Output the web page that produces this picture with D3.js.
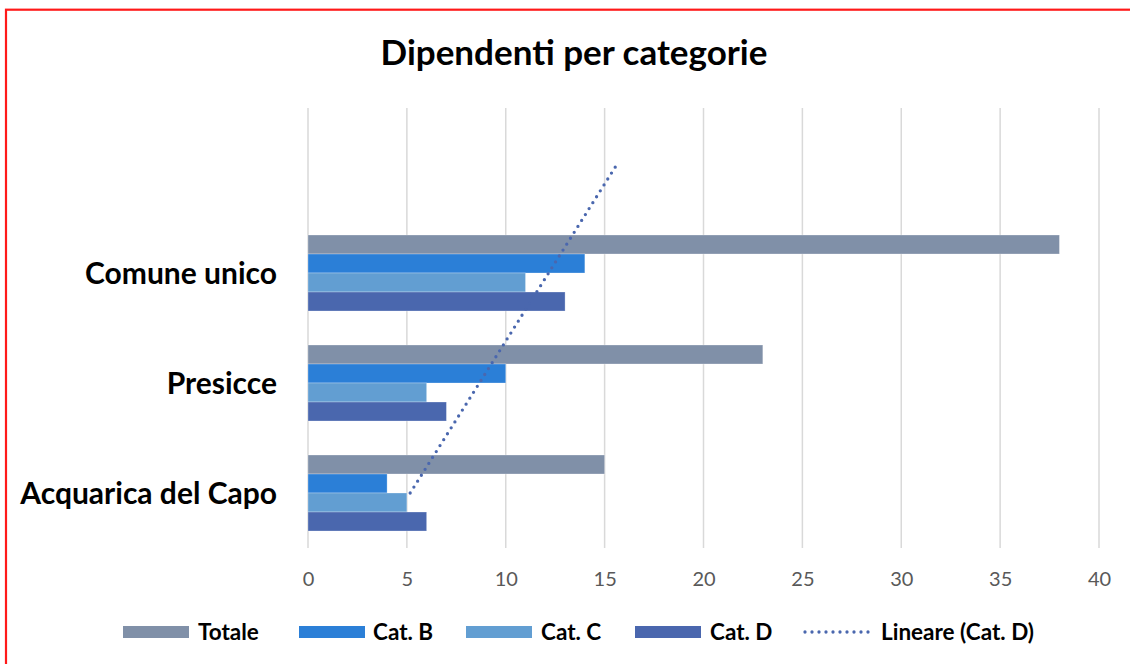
<!DOCTYPE html>
<html>
<head>
<meta charset="utf-8">
<script src="https://cdnjs.cloudflare.com/ajax/libs/d3/7.8.5/d3.min.js"></script>
<style>
  html, body { margin: 0; padding: 0; background: #fff; }
  svg { display: block; }
</style>
</head>
<body>
<svg id="chart" width="1130" height="664"></svg>
<script>
// ---- data ----
const categories = ["Acquarica del Capo", "Presicce", "Comune unico"];
const seriesNames = ["Totale", "Cat. B", "Cat. C", "Cat. D"];
const totale = [15, 23, 38];
const catB = [4, 10, 14];
const catC = [5, 6, 11];
const catD = [6, 7, 13];
const xTicks = [0, 5, 10, 15, 20, 25, 30, 35, 40];
const trendName = "Lineare (Cat. D)";
const trendForward = 1; // forecast periods

const colors = ["#8090A8", "#2B7FD7", "#629ED2", "#4A67AE"];
const trendColor = "#4A67AE";
const seriesValues = [totale, catB, catC, catD];

const svg = d3.select("#chart");
const font = "Lato, 'Open Sans', sans-serif";

// red frame
svg.append("rect").attr("x", 6).attr("y", 9.7).attr("width", 1200).attr("height", 800)
  .attr("fill", "none").attr("stroke", "#FF1A1A").attr("stroke-width", 2.2);

// title
svg.append("text").attr("x", 574).attr("y", 65).attr("text-anchor", "middle")
  .attr("font-family", font).attr("font-weight", 700).attr("font-size", 35)
  .attr("fill", "#000").text("Dipendenti per categorie");

const plotLeft = 308, plotRight = 1099, plotTop = 108, plotBottom = 548;
const x = d3.scaleLinear().domain([0, 40]).range([plotLeft, plotRight]);
const slots = d3.range(categories.length + trendForward);
const y = d3.scaleBand().domain(slots).range([plotBottom, plotTop])
  .paddingInner(0.309).paddingOuter(0.1545);
const yInner = d3.scaleBand().domain(seriesNames).range([0, y.bandwidth()]);

// gridlines
svg.append("g").selectAll("line").data(xTicks).join("line")
  .attr("x1", d => x(d)).attr("x2", d => x(d))
  .attr("y1", plotTop).attr("y2", plotBottom)
  .attr("stroke", "#D9D9D9").attr("stroke-width", 1.5);

// x axis labels
const xAxis = d3.axisBottom(x).tickValues(xTicks).tickSize(0).tickPadding(0);
const gx = svg.append("g").attr("transform", `translate(0,${plotBottom + 38})`).call(xAxis);
gx.select(".domain").remove();
gx.selectAll("text").attr("font-family", font).attr("font-size", 20).attr("fill", "#595959").attr("dy", 0);

// bars
const groups = svg.append("g").selectAll("g").data(categories).join("g")
  .attr("transform", (d, i) => `translate(0,${y(i)})`);
groups.selectAll("rect").data((d, i) => seriesNames.map((s, k) => ({ s, k, v: seriesValues[k][i] })))
  .join("rect")
  .attr("x", x(0))
  .attr("y", d => yInner(d.s))
  .attr("width", d => x(d.v) - x(0))
  .attr("height", yInner.bandwidth())
  .attr("fill", d => colors[d.k])
  .attr("stroke", "rgba(255,255,255,0.35)").attr("stroke-width", 0.8);

// category labels
svg.append("g").selectAll("text").data(categories).join("text")
  .attr("x", plotLeft - 31)
  .attr("y", (d, i) => y(i) + y.bandwidth() / 2)
  .attr("dy", "0.35em").attr("text-anchor", "end")
  .attr("font-family", font).attr("font-weight", 700).attr("font-size", 30).attr("fill", "#000")
  .text(d => d);

// linear trendline for Cat. D
const xs = categories.map((c, i) => i + 1);
const mx = d3.mean(xs), my = d3.mean(catD);
const slope = d3.sum(xs, (v, i) => (v - mx) * (catD[i] - my)) / d3.sum(xs, v => (v - mx) ** 2);
const icpt = my - slope * mx;
const trendPts = [1, categories.length + trendForward].map(t => ({ t, v: icpt + slope * t }));
const line = d3.line().x(d => x(d.v)).y(d => y(d.t - 1) + y.bandwidth() / 2);
svg.append("path").datum(trendPts).attr("d", line)
  .attr("fill", "none").attr("stroke", trendColor).attr("stroke-width", 3.3)
  .attr("stroke-linecap", "round").attr("stroke-dasharray", "0 7");

// legend
const legendY = 632;
const legendItems = [
  { name: seriesNames[0], type: "bar", color: colors[0], sx: 123, tx: 198 },
  { name: seriesNames[1], type: "bar", color: colors[1], sx: 299, tx: 373 },
  { name: seriesNames[2], type: "bar", color: colors[2], sx: 466, tx: 541 },
  { name: seriesNames[3], type: "bar", color: colors[3], sx: 635, tx: 710 },
  { name: trendName, type: "line", color: trendColor, sx: 803, tx: 881 }
];
const lg = svg.append("g").selectAll("g").data(legendItems).join("g");
lg.filter(d => d.type === "bar").append("rect")
  .attr("x", d => d.sx).attr("y", legendY - 6).attr("width", 66).attr("height", 12)
  .attr("fill", d => d.color);
lg.filter(d => d.type === "line").append("line")
  .attr("x1", d => d.sx + 2).attr("x2", d => d.sx + 68).attr("y1", legendY).attr("y2", legendY)
  .attr("stroke", d => d.color).attr("stroke-width", 3.3)
  .attr("stroke-linecap", "round").attr("stroke-dasharray", "0 7");
lg.append("text").attr("x", d => d.tx).attr("y", legendY).attr("dy", "0.35em")
  .attr("font-family", font).attr("font-weight", 700).attr("font-size", 22.5).attr("fill", "#000")
  .text(d => d.name);
</script>
</body>
</html>
